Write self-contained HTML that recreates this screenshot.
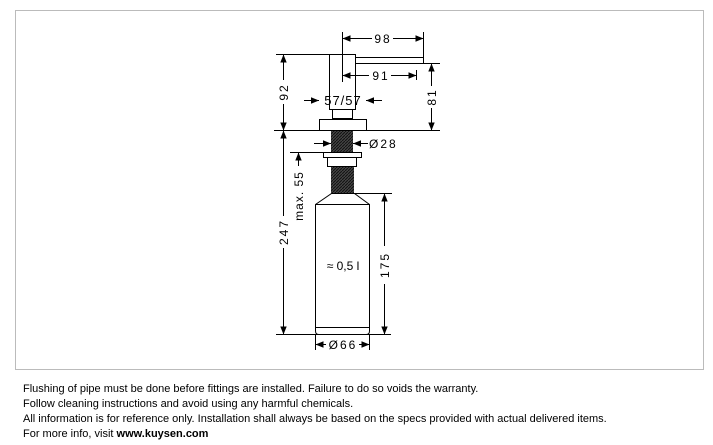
<!DOCTYPE html>
<html><head><meta charset="utf-8"><style>
body{margin:0;background:#fff;width:713px;height:445px;overflow:hidden;font-family:"Liberation Sans",sans-serif}
.t{position:absolute;left:23px;font-size:11px;color:#000;white-space:nowrap}
</style></head><body>
<svg width="713" height="445" style="position:absolute;left:0;top:0" font-family="Liberation Sans, sans-serif">
<defs>
<marker id="a" viewBox="0 0 10 10" refX="10" refY="5" markerWidth="8" markerHeight="8" orient="auto-start-reverse" markerUnits="userSpaceOnUse"><path d="M0,1L10,5L0,9z" fill="#000"/></marker>
<pattern id="h" width="3" height="3" patternUnits="userSpaceOnUse"><rect width="3" height="3" fill="#444"/><path d="M0,3L3,0" stroke="#111" stroke-width="1"/></pattern>
</defs>
<rect x="15.5" y="10.5" width="688" height="359" fill="none" stroke="#bbb"/>
<g stroke="#000" fill="none" stroke-width="1">
<rect x="329.5" y="54.5" width="26" height="55"/>
<rect x="355.5" y="57.5" width="68" height="6"/>
<rect x="332.5" y="109.5" width="20" height="9"/>
<rect x="319.5" y="119.5" width="47" height="11"/>
<rect x="331" y="131" width="22" height="21" fill="url(#h)" stroke="none"/>
<rect x="331" y="166" width="23" height="27" fill="url(#h)" stroke="none"/>
<rect x="323.5" y="152.5" width="38" height="5"/>
<rect x="327.5" y="157.5" width="29" height="9"/>
<path d="M331.5,193.5 L354.5,193.5 L369.5,204.5 L369.5,331 Q369.5,334.5 366,334.5 L319,334.5 Q315.5,334.5 315.5,331 L315.5,204.5 Z"/>
<line x1="315.5" y1="204.5" x2="369.5" y2="204.5"/>
<line x1="315.5" y1="327.5" x2="369.5" y2="327.5"/>
<line x1="342.5" y1="32" x2="342.5" y2="82"/>
<line x1="423.5" y1="32" x2="423.5" y2="57"/>
<line x1="416.5" y1="70" x2="416.5" y2="80"/>
<line x1="276" y1="54.5" x2="329" y2="54.5"/>
<line x1="420" y1="63.5" x2="440" y2="63.5"/>
<line x1="274" y1="130.5" x2="440" y2="130.5"/>
<line x1="276" y1="334.5" x2="391" y2="334.5"/>
<line x1="290" y1="152.5" x2="323" y2="152.5"/>
<line x1="354" y1="193.5" x2="392" y2="193.5"/>
<line x1="315.5" y1="335" x2="315.5" y2="350"/>
<line x1="369.5" y1="335" x2="369.5" y2="350"/>
<line x1="342.5" y1="38.5" x2="372" y2="38.5" marker-start="url(#a)"/>
<line x1="393" y1="38.5" x2="423.5" y2="38.5" marker-end="url(#a)"/>
<line x1="342.5" y1="75.5" x2="369" y2="75.5" marker-start="url(#a)"/>
<line x1="391" y1="75.5" x2="416.5" y2="75.5" marker-end="url(#a)"/>
<line x1="283.5" y1="54.5" x2="283.5" y2="80" marker-start="url(#a)"/>
<line x1="283.5" y1="104" x2="283.5" y2="130.5" marker-end="url(#a)"/>
<line x1="431.5" y1="63.5" x2="431.5" y2="86" marker-start="url(#a)"/>
<line x1="431.5" y1="108" x2="431.5" y2="130.5" marker-end="url(#a)"/>
<line x1="304" y1="100.5" x2="319" y2="100.5" marker-end="url(#a)"/>
<line x1="382" y1="100.5" x2="366" y2="100.5" marker-end="url(#a)"/>
<line x1="314" y1="143.5" x2="331" y2="143.5" marker-end="url(#a)"/>
<line x1="368" y1="143.5" x2="353" y2="143.5" marker-end="url(#a)"/>
<line x1="283.5" y1="130.5" x2="283.5" y2="216" marker-start="url(#a)"/>
<line x1="283.5" y1="248" x2="283.5" y2="334.5" marker-end="url(#a)"/>
<line x1="298.5" y1="152.5" x2="298.5" y2="166" marker-start="url(#a)"/>
<line x1="384.5" y1="193.5" x2="384.5" y2="246" marker-start="url(#a)"/>
<line x1="384.5" y1="284" x2="384.5" y2="334.5" marker-end="url(#a)"/>
<line x1="315.5" y1="344.5" x2="326" y2="344.5" marker-start="url(#a)"/>
<line x1="359" y1="344.5" x2="369.5" y2="344.5" marker-end="url(#a)"/>
</g>
<g font-size="12" fill="#000" letter-spacing="2">
<text x="383" y="43" text-anchor="middle">98</text>
<text x="381" y="80" text-anchor="middle">91</text>
<text x="343" y="105" text-anchor="middle" font-size="13" letter-spacing="1">57/57</text>
<text x="369" y="148">Ø28</text>
<text x="343" y="349" text-anchor="middle">Ø66</text>
<text x="343" y="270" text-anchor="middle" letter-spacing="0">≈ 0,5 l</text>
<text transform="translate(288,92) rotate(-90)" text-anchor="middle">92</text>
<text transform="translate(436,97) rotate(-90)" text-anchor="middle">81</text>
<text transform="translate(288,232) rotate(-90)" text-anchor="middle">247</text>
<text transform="translate(389,265) rotate(-90)" text-anchor="middle">175</text>
<text transform="translate(303,196) rotate(-90)" text-anchor="middle" letter-spacing="1">max. 55</text>
</g>
</svg>
<div class="t" style="top:383px">Flushing of pipe must be done before fittings are installed. Failure to do so voids the warranty.</div>
<div class="t" style="top:398px">Follow cleaning instructions and avoid using any harmful chemicals.</div>
<div class="t" style="top:413px">All information is for reference only. Installation shall always be based on the specs provided with actual delivered items.</div>
<div class="t" style="top:428px">For more info, visit <b>www.kuysen.com</b></div>
</body></html>
